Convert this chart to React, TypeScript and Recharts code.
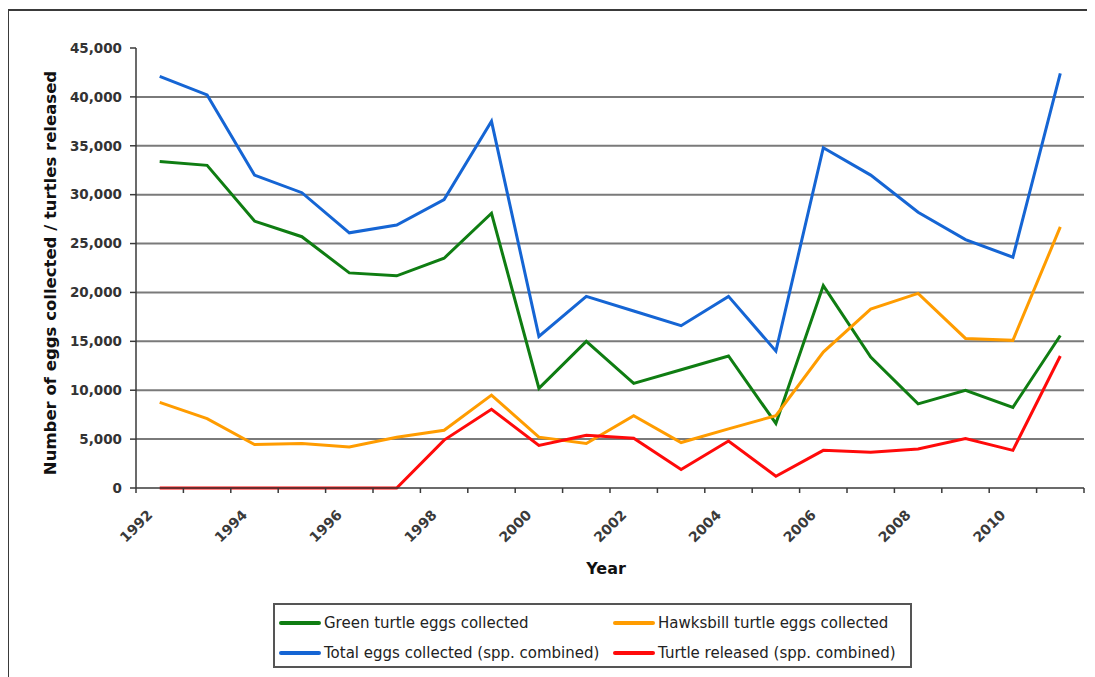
import React from 'react';
import { LineChart, Line, XAxis, YAxis, CartesianGrid } from 'recharts';

const years = [1992, 1993, 1994, 1995, 1996, 1997, 1998, 1999, 2000, 2001, 2002, 2003, 2004, 2005, 2006, 2007, 2008, 2009, 2010, 2011];
const greenEggs = [33400, 33000, 27300, 25700, 22000, 21700, 23500, 28100, 10200, 15000, 10700, 12100, 13500, 6600, 20700, 13400, 8600, 10000, 8250, 15600];
const hawksbillEggs = [8750, 7100, 4450, 4550, 4200, 5200, 5900, 9500, 5200, 4550, 7400, 4650, 6050, 7400, 13900, 18300, 19900, 15300, 15100, 26700];
const totalEggs = [42100, 40200, 32000, 30200, 26100, 26900, 29500, 37500, 15500, 19600, 18100, 16600, 19600, 14000, 34800, 32000, 28200, 25400, 23600, 42400];
const turtlesReleased = [0, 0, 0, 0, 0, 0, 4900, 8050, 4350, 5400, 5100, 1900, 4800, 1200, 3850, 3650, 4000, 5050, 3850, 13500];

const yTicks = [0, 5000, 10000, 15000, 20000, 25000, 30000, 35000, 40000, 45000];
const gridValues = [5000, 10000, 15000, 20000, 25000, 30000, 35000, 40000];
const xTicks = [...years, 2012];

const series = [
  { key: 'green', name: 'Green turtle eggs collected', color: '#0f7d12', values: greenEggs },
  { key: 'hawksbill', name: 'Hawksbill turtle eggs collected', color: '#ff9c00', values: hawksbillEggs },
  { key: 'total', name: 'Total eggs collected (spp. combined)', color: '#1565d4', values: totalEggs },
  { key: 'released', name: 'Turtle released (spp. combined)', color: '#ff0a0a', values: turtlesReleased },
];

// points sit in the middle of each year slot, ticks between slots (Excel style)
const data = years.map((year, i) => {
  const row: Record<string, number> = { x: year + 0.5 };
  series.forEach(s => { row[s.key] = s.values[i]; });
  return row;
});

const FONT = '"DejaVu Sans", sans-serif';

const YearTick = ({ x, y, payload }: any) => {
  const v = payload.value;
  if (v % 2 !== 0 || v > 2010) return null;
  const cy = y + 31;
  return (
    <text
      x={x}
      y={cy}
      textAnchor="middle"
      dominantBaseline="central"
      transform={`rotate(-45, ${x}, ${cy})`}
      style={{ fontFamily: FONT, fontSize: 14, fontWeight: 'bold', fill: '#3a3a3a' }}
    >
      {v}
    </text>
  );
};

const YTitle = () => (
  <text
    x={50}
    y={273}
    textAnchor="middle"
    dominantBaseline="central"
    transform="rotate(-90, 50, 273)"
    style={{ fontFamily: FONT, fontSize: 16.5, fontWeight: 'bold', fill: '#111' }}
  >
    Number of eggs collected / turtles released
  </text>
);

const XTitle = () => (
  <text
    x={606}
    y={568}
    textAnchor="middle"
    dominantBaseline="central"
    style={{ fontFamily: FONT, fontSize: 16, fontWeight: 'bold', fill: '#111' }}
  >
    Year
  </text>
);

const legendSlots = [
  { left: 4, top: 8 },
  { left: 338, top: 8 },
  { left: 4, top: 38 },
  { left: 338, top: 38 },
];

export default function App() {
  return (
    <div style={{ position: 'relative', width: 1095, height: 677, marginLeft: -8, marginTop: -8, background: '#fff', overflow: 'hidden' }}>
      <div style={{ position: 'absolute', left: 7, top: 9, width: 1100, height: 680, borderLeft: '2px solid #3a3a3a', borderTop: '2px solid #3a3a3a' }} />

      <LineChart width={1095} height={677} data={data} margin={{ top: 48, right: 11, bottom: 129, left: 66 }} style={{ position: 'absolute', left: 0, top: 0 }}>
        <CartesianGrid horizontal vertical={false} horizontalValues={gridValues} stroke="#7a7a7a" strokeWidth={2} />
        <XAxis
          dataKey="x"
          type="number"
          domain={[1992, 2012]}
          ticks={xTicks}
          interval={0}
          height={60}
          tick={<YearTick />}
          tickSize={5}
          axisLine={{ stroke: '#3a3a3a', strokeWidth: 1.5 }}
          tickLine={{ stroke: '#3a3a3a', strokeWidth: 1.5 }}
          label={<XTitle />}
        />
        <YAxis
          type="number"
          domain={[0, 45000]}
          ticks={yTicks}
          interval={0}
          width={70}
          tickSize={6}
          tickMargin={8}
          tickFormatter={(v: number) => v.toLocaleString('en-US')}
          tick={{ fontFamily: FONT, fontSize: 13.5, fontWeight: 'bold', fill: '#333' }}
          axisLine={{ stroke: '#3a3a3a', strokeWidth: 1.5 }}
          tickLine={{ stroke: '#3a3a3a', strokeWidth: 1.5 }}
          label={<YTitle />}
        />
        {series.map(s => (
          <Line
            key={s.key}
            type="linear"
            dataKey={s.key}
            name={s.name}
            stroke={s.color}
            strokeWidth={3}
            dot={false}
            activeDot={false}
            isAnimationActive={false}
          />
        ))}
      </LineChart>

      <div style={{ position: 'absolute', left: 273, top: 603, width: 639, height: 65, boxSizing: 'border-box', border: '2px solid #555', background: '#fff', fontFamily: FONT, fontSize: 15, color: '#222' }}>
        {series.map((s, i) => (
          <div key={s.key} style={{ position: 'absolute', left: legendSlots[i].left, top: legendSlots[i].top, height: 20, display: 'flex', alignItems: 'center', whiteSpace: 'nowrap' }}>
            <span style={{ display: 'inline-block', width: 42, height: 4, borderRadius: 2, background: s.color, marginRight: 3 }} />
            <span>{s.name}</span>
          </div>
        ))}
      </div>
    </div>
  );
}
